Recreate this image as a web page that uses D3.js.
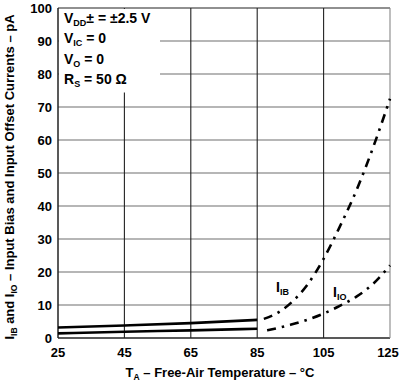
<!DOCTYPE html>
<html>
<head>
<meta charset="utf-8">
<title>IB and IO vs temperature</title>
<script src="https://d3js.org/d3.v7.min.js"></script>
<style>
  body { margin: 0; background: #fff; }
  text { font-family: "Liberation Sans", Arial, sans-serif; font-weight: bold; fill: #000; }
</style>
</head>
<body>
<script>
var width = 399, height = 381
var margin = {left: 58, right: 9, top: 8, bottom: 43}

var xTicks = [25, 45, 65, 85, 105, 125]
var yTicks = [0, 10, 20, 30, 40, 50, 60, 70, 80, 90, 100]

// measured (solid) and extrapolated (dash-dot) parts
var ibSolid = [[25, 3.2], [45, 3.8], [65, 4.5], [85, 5.5]]
var ibDash = [[87, 5.8], [90, 7], [95, 10.5], [100, 16], [105, 24], [110, 34], [115, 45], [120, 58], [125, 72.5]]
var ioSolid = [[25, 1.4], [45, 1.9], [65, 2.3], [85, 2.8]]
var ioDash = [[88, 2.3], [95, 4], [100, 5.5], [105, 7.4], [110, 9.8], [115, 12.6], [120, 16.5], [125, 22]]

var conditions = [
  ["V", "DD", "\u00b1 = \u00b12.5 V"],
  ["V", "IC", " = 0"],
  ["V", "O", " = 0"],
  ["R", "S", " = 50 \u03a9"]
]

var svg = d3.select("body").append("svg").attr("width", width).attr("height", height)

var x = d3.scaleLinear().domain([25, 125]).range([margin.left, width - margin.right])
var y = d3.scaleLinear().domain([0, 100]).range([height - margin.bottom, margin.top])

// grid
svg.selectAll(".hgrid").data(yTicks).enter().append("line")
  .attr("x1", x(25)).attr("x2", x(125))
  .attr("y1", d => y(d)).attr("y2", d => y(d))
  .attr("stroke", d => (d == 0 || d == 100) ? "#222" : "#6e6e6e").attr("stroke-width", d => d == 0 ? 1.5 : 1.2)
svg.selectAll(".vgrid").data(xTicks).enter().append("line")
  .attr("x1", d => x(d)).attr("x2", d => x(d))
  .attr("y1", y(0)).attr("y2", y(100))
  .attr("stroke", d => d == 125 ? "#888" : "#222").attr("stroke-width", d => d == 25 ? 1.5 : 1.1)

// white box behind the test conditions
svg.append("rect").attr("x", x(25) + 1).attr("y", y(100) + 1)
  .attr("width", 101).attr("height", y(75) - y(100) + 1).attr("fill", "#fff")

var cond = svg.append("g")
conditions.forEach(function(c, i) {
  var t = cond.append("text").attr("x", 64).attr("y", 23 + i * 20.3).attr("font-size", 14)
  t.append("tspan").text(c[0])
  t.append("tspan").attr("font-size", 9).attr("dy", 3).text(c[1])
  t.append("tspan").attr("dy", -3).text(c[2])
})

var line = d3.line().x(d => x(d[0])).y(d => y(d[1])).curve(d3.curveMonotoneX)

;[ibSolid, ioSolid].forEach(function(s) {
  svg.append("path").attr("d", line(s)).attr("fill", "none").attr("stroke", "#000").attr("stroke-width", 2.6)
})
;[ibDash, ioDash].forEach(function(s) {
  svg.append("path").attr("d", line(s)).attr("fill", "none").attr("stroke", "#000").attr("stroke-width", 2.6)
    .attr("stroke-dasharray", "9,6,2.5,6")
})

// curve labels
function subLabel(px, py, main, sub) {
  var t = svg.append("text").attr("x", px).attr("y", py).attr("font-size", 14)
  t.append("tspan").text(main)
  t.append("tspan").attr("font-size", 9).attr("dy", 3).text(sub)
}
subLabel(276, 292, "I", "IB")
subLabel(333, 297, "I", "IO")

// tick labels
svg.selectAll(".ylab").data(yTicks).enter().append("text")
  .attr("x", 52).attr("y", d => y(d) + 5).attr("text-anchor", "end").attr("font-size", 13)
  .text(d => d)
svg.selectAll(".xlab").data(xTicks).enter().append("text")
  .attr("x", d => d == 125 ? x(d) - 2 : x(d)).attr("y", 357).attr("text-anchor", "middle").attr("font-size", 13)
  .text(d => d)

// axis titles
var xt = svg.append("text").attr("x", (x(25) + x(125)) / 2 - 4).attr("y", 377).attr("text-anchor", "middle").attr("font-size", 13)
xt.append("tspan").text("T")
xt.append("tspan").attr("font-size", 8.5).attr("dy", 3).text("A")
xt.append("tspan").attr("dy", -3).text(" \u2013 Free-Air Temperature \u2013 \u00b0C")

var yt = svg.append("text").attr("transform", "translate(14,177) rotate(-90)")
  .attr("text-anchor", "middle").attr("font-size", 13)
yt.append("tspan").text("I")
yt.append("tspan").attr("font-size", 8.5).attr("dy", 3).text("IB")
yt.append("tspan").attr("dy", -3).text(" and I")
yt.append("tspan").attr("font-size", 8.5).attr("dy", 3).text("IO")
yt.append("tspan").attr("dy", -3).text(" \u2013 Input Bias and Input Offset Currents \u2013 pA")
</script>
</body>
</html>
